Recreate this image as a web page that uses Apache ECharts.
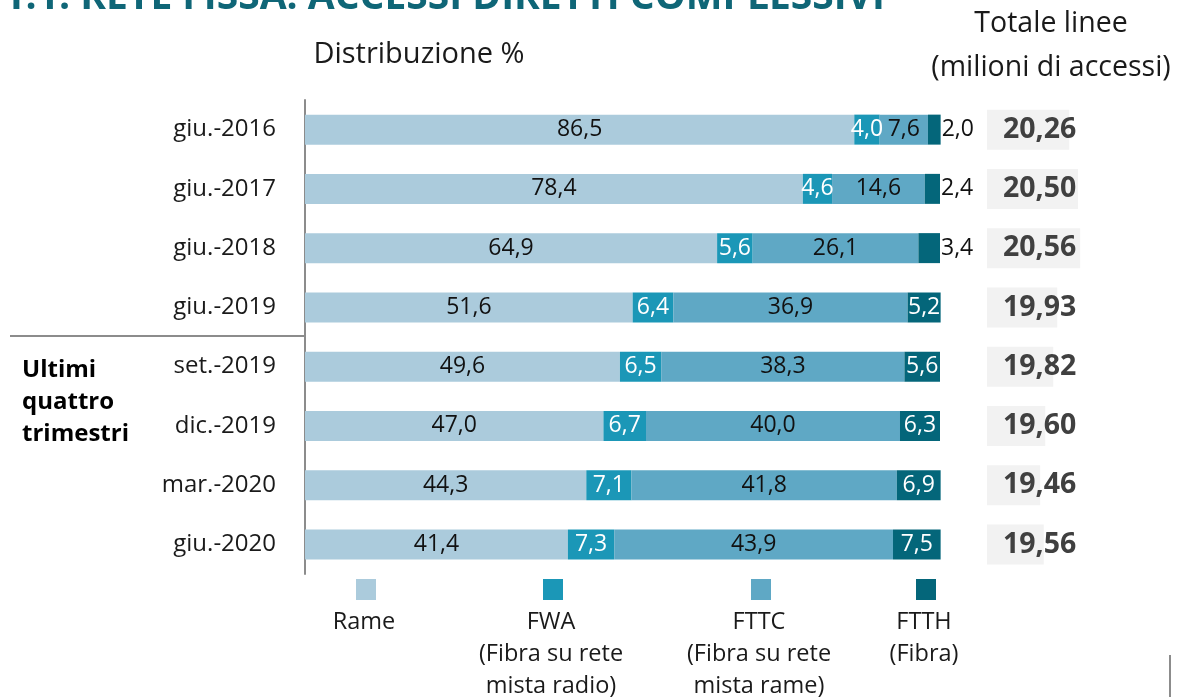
<!DOCTYPE html>
<html>
<head>
<meta charset="utf-8">
<script src="https://cdn.jsdelivr.net/npm/echarts@6/dist/echarts.min.js"></script>
<style>
  html, body { margin: 0; padding: 0; background: #fff; }
  #chart { width: 1179px; height: 697px; }
</style>
</head>
<body>
<div id="chart"></div>
<script>
// periodi (dall'alto in basso)
var categories = ['giu.-2016', 'giu.-2017', 'giu.-2018', 'giu.-2019', 'set.-2019', 'dic.-2019', 'mar.-2020', 'giu.-2020'];

// distribuzione % per tecnologia
var rame = [86.5, 78.4, 64.9, 51.6, 49.6, 47.0, 44.3, 41.4];
var fwa  = [4.0, 4.6, 5.6, 6.4, 6.5, 6.7, 7.1, 7.3];
var fttc = [7.6, 14.6, 26.1, 36.9, 38.3, 40.0, 41.8, 43.9];
var ftth = [2.0, 2.4, 3.4, 5.2, 5.6, 6.3, 6.9, 7.5];

// totale linee (milioni di accessi)
var totale = [20.26, 20.50, 20.56, 19.93, 19.82, 19.60, 19.46, 19.56];

var seriesNames = ['Rame', 'FWA', 'FTTC', 'FTTH'];
var seriesNotes = ['', '(Fibra su rete\nmista radio)', '(Fibra su rete\nmista rame)', '(Fibra)'];
var colors = ['#abcbdc', '#1b97b7', '#5fa8c5', '#04667a'];

var FONT = '"Open Sans", "Noto Sans", sans-serif';

function fmt(v, d) {
    return v.toFixed(d).replace('.', ',');
}

var myChart = echarts.init(document.getElementById('chart'));

var grids = [
    { left: 305, top: 100, width: 635, height: 474 },
    { left: 987, top: 100, width: 182, height: 474 }
];

function segLabel(color) {
    return {
        show: true,
        position: 'inside',
        color: color,
        fontFamily: FONT,
        fontSize: 23,
        formatter: function (p) { return fmt(p.value, 1); }
    };
}

// FTTH: nelle prime righe il valore sta fuori dalla barra
var ftthData = ftth.map(function (v, i) {
    if (v < 5) {
        return { value: v, label: { position: 'right', distance: 1, color: '#111' } };
    }
    return v;
});

var barSeries = [rame, fwa, fttc, ftthData].map(function (d, i) {
    return {
        name: seriesNames[i],
        type: 'bar',
        stack: 'dist',
        barWidth: 30,
        xAxisIndex: 0,
        yAxisIndex: 0,
        itemStyle: { color: colors[i] },
        label: segLabel(i === 1 || i === 3 ? '#ffffff' : '#111111'),
        data: d,
        clip: false
    };
});

barSeries.push({
    name: 'Totale',
    type: 'bar',
    barWidth: 40,
    xAxisIndex: 1,
    yAxisIndex: 1,
    itemStyle: { color: '#f2f2f2' },
    label: {
        show: true,
        position: 'insideLeft',
        distance: 16,
        color: '#404040',
        fontFamily: FONT,
        fontWeight: 'bold',
        fontSize: 28.5,
        formatter: function (p) { return fmt(p.value, 2); }
    },
    data: totale
});

// legenda disegnata sotto le barre
var legendX = [366, 553, 761, 926];
var legendGraphics = [];
seriesNames.forEach(function (n, i) {
    legendGraphics.push({
        type: 'rect',
        shape: { x: legendX[i] - 10, y: 579, width: 20, height: 21 },
        style: { fill: colors[i] }
    });
    legendGraphics.push({
        type: 'text',
        x: legendX[i] - 2,
        y: 606,
        style: {
            text: n + (seriesNotes[i] ? '\n' + seriesNotes[i] : ''),
            fontFamily: FONT,
            fontSize: 23.5,
            lineHeight: 32,
            fill: '#1a1a1a',
            textAlign: 'center',
            textVerticalAlign: 'top'
        }
    });
});

myChart.setOption({
    animation: false,
    grid: grids,
    xAxis: [
        { type: 'value', gridIndex: 0, min: 0, max: 100, show: false },
        { type: 'value', gridIndex: 1, min: 18, max: 23, show: false }
    ],
    yAxis: [
        {
            type: 'category',
            gridIndex: 0,
            inverse: true,
            data: categories,
            axisLine: { lineStyle: { color: '#8c8c8c', width: 2 } },
            axisTick: { show: false },
            axisLabel: { color: '#1a1a1a', fontFamily: FONT, fontSize: 24, margin: 29 }
        },
        {
            type: 'category',
            gridIndex: 1,
            inverse: true,
            data: categories,
            show: false
        }
    ],
    series: barSeries,
    graphic: legendGraphics.concat([
        {
            type: 'text',
            x: 885,
            y: 17,
            style: {
                text: '1.1. RETE FISSA: ACCESSI DIRETTI COMPLESSIVI',
                fontFamily: FONT,
                fontWeight: 'bold',
                fontSize: 39,
                fill: '#0f6677',
                textAlign: 'right',
                textVerticalAlign: 'bottom'
            }
        },
        {
            type: 'text',
            x: 419,
            y: 55,
            style: {
                text: 'Distribuzione %',
                fontFamily: FONT,
                fontSize: 29,
                fill: '#1a1a1a',
                textAlign: 'center',
                textVerticalAlign: 'middle'
            }
        },
        {
            type: 'text',
            x: 1051,
            y: 46,
            style: {
                text: 'Totale linee\n(milioni di accessi)',
                fontFamily: FONT,
                fontSize: 28.5,
                lineHeight: 44,
                fill: '#1a1a1a',
                textAlign: 'center',
                textVerticalAlign: 'middle'
            }
        },
        {
            type: 'text',
            x: 22,
            y: 402,
            style: {
                text: 'Ultimi\nquattro\ntrimestri',
                fontFamily: FONT,
                fontWeight: 'bold',
                fontSize: 24,
                lineHeight: 32,
                fill: '#000',
                textAlign: 'left',
                textVerticalAlign: 'middle'
            }
        },
        {
            type: 'line',
            shape: { x1: 10, y1: 336, x2: 305, y2: 336 },
            style: { stroke: '#8c8c8c', lineWidth: 2 }
        },
        {
            type: 'line',
            shape: { x1: 1170, y1: 655, x2: 1170, y2: 697 },
            style: { stroke: '#8c8c8c', lineWidth: 2 }
        }
    ])
});
</script>
</body>
</html>
